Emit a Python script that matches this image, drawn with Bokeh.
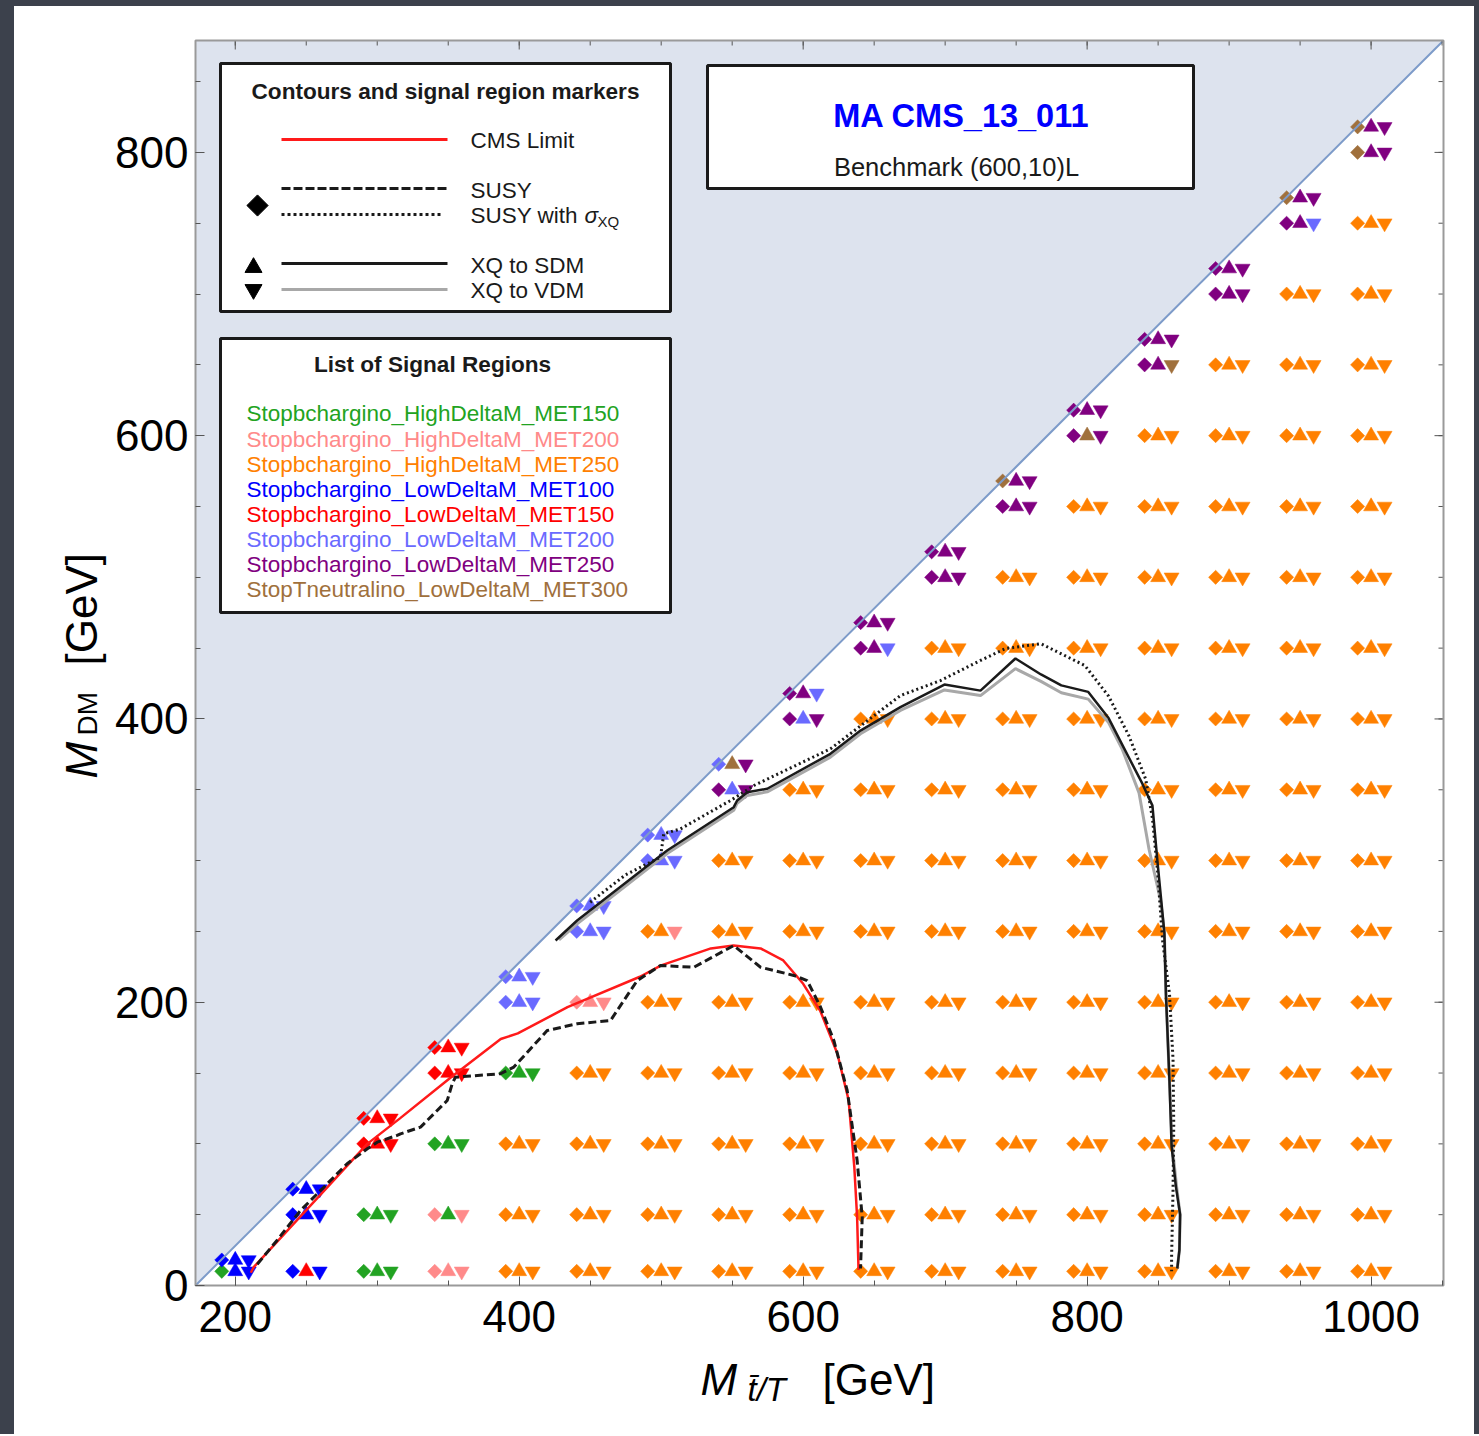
import numpy as np
from bokeh.plotting import figure
from bokeh.models import Range1d, Label, LinearAxis, FixedTicker, ColumnDataSource, Spacer
from bokeh.layouts import row, column
from bokeh.embed import file_html
from bokeh.resources import INLINE
from bokeh.transform import dodge

# ---------------------------------------------------------------- data
TOP_MASS = 172.0                      # kinematic boundary  M_DM = M - m_top
mt_columns = [200, 250, 300, 350, 400, 450, 500, 550, 600, 650, 700, 750, 800, 850, 900, 950, 1000]
mdm_rows = [10, 50, 100, 150, 200, 250, 300, 350, 400, 450, 500, 550, 600, 650, 700, 750, 800]
mdm_edge = [18, 68, 118, 168, 218, 268, 318, 368, 418, 468, 518, 568, 618, 668, 718, 768, 818]

sr_names = ["Stopbchargino_HighDeltaM_MET150", "Stopbchargino_HighDeltaM_MET200",
            "Stopbchargino_HighDeltaM_MET250", "Stopbchargino_LowDeltaM_MET100",
            "Stopbchargino_LowDeltaM_MET150", "Stopbchargino_LowDeltaM_MET200",
            "Stopbchargino_LowDeltaM_MET250", "StopTneutralino_LowDeltaM_MET300"]
sr_codes = ["G", "P", "O", "B", "R", "L", "V", "N"]
sr_colors = ["#22a322", "#ff8a8a", "#ff8000", "#0000ff", "#ff0000", "#6a6aff", "#800080", "#a0703c"]

# best signal region (diamond SUSY, up-triangle XQ->SDM, down-triangle XQ->VDM); others "OOO"
best_sr = {
    (200, 18): "BBB", (200, 10): "GBB",
    (250, 68): "BBB", (250, 50): "BBB", (250, 10): "BRB",
    (300, 118): "RRR", (300, 100): "RRR", (300, 50): "GGG", (300, 10): "GGG",
    (350, 168): "RRR", (350, 150): "RRR", (350, 100): "GGG", (350, 50): "PGP", (350, 10): "PPP",
    (400, 218): "LLL", (400, 200): "LLL", (400, 150): "GGG",
    (450, 268): "LLL", (450, 250): "LLL", (450, 200): "PPP",
    (500, 318): "LLL", (500, 300): "LLL", (500, 250): "OOP",
    (550, 368): "LNV", (550, 350): "VLV",
    (600, 418): "VVL", (600, 400): "VLV",
    (650, 468): "VVV", (650, 450): "VVL",
    (700, 518): "VVV", (700, 500): "VVV",
    (750, 568): "NVV", (750, 550): "VVV",
    (800, 618): "VVV", (800, 600): "VNV",
    (850, 668): "VVV", (850, 650): "VVN",
    (900, 718): "VVV", (900, 700): "VVV",
    (950, 768): "NVV", (950, 750): "VVL",
    (1000, 818): "NVV", (1000, 800): "NVV",
}

cms_mt = [211, 213, 293, 316, 352, 387, 399, 434, 485, 500, 535, 551, 570, 586, 600, 612, 624, 632, 636, 638, 639]
cms_mdm = [9, 13, 100, 118, 147, 174, 178, 196.5, 218, 226, 238, 240, 238, 229.5, 213, 194, 164, 131, 84, 48, 11]

susy_mt = [215.5, 229.5, 246, 262.4, 278.8, 293, 300, 314, 316.4, 330.5, 349.3, 352.8, 355.1, 386.8, 396.2, 419.7,
           440.8, 464.3, 483.1, 499.5, 523, 551.1, 570, 593.4, 602.8, 612.2, 621.6, 631, 638, 641.6, 640.4]
susy_mdm = [15, 32, 53, 69.4, 86, 96.5, 101.2, 106, 107.1, 111.8, 130.6, 142.4, 147.1, 149.5, 154.2, 180,
            184.8, 187.1, 215.3, 225.9, 224.7, 240, 224.7, 218.9, 215.3, 196.6, 173, 137.7, 88.3, 48.2, 12]

susy_xq_mt = [450, 475, 499.5, 501.8, 513.6, 548.8, 565.3, 619.2, 668.5, 696.7, 724.9, 742.5, 767.5, 798.4,
              815.1, 829.4, 841.3, 846, 849.6, 853.2, 858, 860.5, 861, 860.5, 859.5, 859.5]
susy_xq_mdm = [270.6, 290, 302.4, 318.9, 322.4, 342.4, 353, 378.9, 416.5, 427.1, 441.3, 449.7, 453.1, 437.7,
               416.1, 388.2, 357.3, 329.7, 292.5, 243.1, 206, 159.6, 113.3, 67, 20.7, 10]

xq_sdm_mt = [425.6, 440.8, 504.2, 551.1, 553.5, 560.6, 574.7, 619.2, 640.4, 668.5, 699.5, 724.9, 749.5, 767.5,
             781.8, 800.8, 815.1, 824.6, 838.9, 846, 849.6, 854.4, 855.5, 858, 859.5, 862.5, 865.5, 865, 863.5]
xq_sdm_mdm = [243.6, 257.7, 307.1, 337.7, 342.4, 348.3, 350.7, 375.4, 391.8, 408.3, 424.3, 420, 442.7, 431.4,
              423.7, 419.1, 400.6, 382, 354.3, 338.8, 298.6, 249.2, 206, 144.2, 98, 70, 50, 25, 12]

xq_vdm_mt = [428, 441, 504.2, 551.1, 553.5, 560.6, 574.7, 619.2, 640.4, 668.5, 699.5, 724.9, 749.5, 767.5,
             781.8, 800.8, 815.1, 824.6, 836.5, 843.6, 851.7, 854.4, 855.5, 858, 860, 863, 865.5, 865, 863.5]
xq_vdm_mdm = [244, 255.5, 305, 335.5, 340.5, 346, 348.5, 373, 389.5, 406, 420.5, 416.5, 435.5, 426.5,
              418.5, 414, 397.5, 379, 348, 308, 272, 249, 206, 144, 98, 70, 50, 25, 12]

x_major = [200, 400, 600, 800, 1000]
x_minor = [200, 250, 300, 350, 400, 450, 500, 550, 600, 650, 700, 750, 800, 850, 900, 950, 1000, 1050]
y_major = [0, 200, 400, 600, 800]
y_minor = [0, 50, 100, 150, 200, 250, 300, 350, 400, 450, 500, 550, 600, 650, 700, 750, 800, 850]

# ---------------------------------------------------------------- geometry
X0, X1 = TOP_MASS, 1051.0          # plot box in data units
Y0, Y1 = 0.0, 879.0
FIG_X, FIG_Y = 14, 6               # page position of the canvas
FIG_W, FIG_H = 1460, 1428
PL, PT, PR, PB = 195, 40, 1443, 1285   # page position of the plot box
SX = (PR - PL) / (X1 - X0)
SY = (PB - PT) / (Y1 - Y0)
XR0, XR1 = X0 - (PL - FIG_X) / SX, X1 + (FIG_X + FIG_W - PR) / SX
YR0, YR1 = Y0 - (FIG_Y + FIG_H - PB) / SY, Y1 + (PT - FIG_Y) / SY
DARK = "#3c414c"


def dx(px):
    return X0 + (px - PL) / SX


def dy(py):
    return Y1 - (py - PT) / SY


FONT = "Liberation Sans"
code_color = dict(zip(sr_codes, sr_colors))

p = figure(width=FIG_W, height=FIG_H, x_range=Range1d(XR0, XR1), y_range=Range1d(YR0, YR1),
           output_backend="svg", toolbar_location=None, x_axis_location=None, y_axis_location=None,
           min_border=0, min_border_left=0, min_border_right=0, min_border_top=0, min_border_bottom=0)
p.grid.visible = False
p.background_fill_color = "white"
p.border_fill_color = "white"
p.outline_line_color = None

xax = LinearAxis(fixed_location=Y0, bounds=(X0, X1), ticker=FixedTicker(ticks=x_major, minor_ticks=x_minor))
yax = LinearAxis(fixed_location=X0, bounds=(Y0, Y1), ticker=FixedTicker(ticks=y_major, minor_ticks=y_minor))
for ax in (xax, yax):
    ax.axis_line_color = None
    ax.major_tick_in, ax.major_tick_out = 9, 0
    ax.minor_tick_in, ax.minor_tick_out = 5, 0
    ax.major_tick_line_color = "#555555"
    ax.minor_tick_line_color = "#555555"
    ax.major_label_text_font = FONT
    ax.major_label_text_font_size = "44px"
    ax.major_label_text_color = "black"
xax.major_label_standoff = 15
yax.major_label_standoff = 7

# excluded (kinematically forbidden) region above the diagonal
p.patch([X0, X1, X0], [X0 - TOP_MASS, X1 - TOP_MASS, X1 - TOP_MASS], fill_color="#dde3ee", line_color=None)

# ---------------------------------------------------------------- markers
pm, pd, cd, cu, cv = [], [], [], [], []
for i, mt in enumerate(mt_columns):
    rows = [m for m in mdm_rows if m < mdm_edge[i]] + [mdm_edge[i]]
    for m in rows:
        code = best_sr.get((mt, m), "OOO")
        pm.append(mt)
        pd.append(m)
        cd.append(code_color[code[0]])
        cu.append(code_color[code[1]])
        cv.append(code_color[code[2]])
src = ColumnDataSource(dict(mt=pm, mdm=pd, cd=cd, cu=cu, cv=cv))
p.scatter(x=dodge("mt", -9.5), y="mdm", source=src, marker="square", angle=np.pi / 4, size=10,
          fill_color="cd", line_color="cd", line_width=0.5)
p.scatter(x="mt", y="mdm", source=src, marker="triangle", size=15, fill_color="cu", line_color="cu", line_width=0.5)
p.scatter(x=dodge("mt", 9.5), y="mdm", source=src, marker="inverted_triangle", size=15,
          fill_color="cv", line_color="cv", line_width=0.5)

p.line([X0, X1], [X0 - TOP_MASS, X1 - TOP_MASS], line_color="#7d9bc9", line_width=2)

# ---------------------------------------------------------------- contours
p.line(xq_vdm_mt, xq_vdm_mdm, line_color="#a8a8a8", line_width=3)
p.line(xq_sdm_mt, xq_sdm_mdm, line_color="#1a1a1a", line_width=2.5)
p.line(susy_xq_mt, susy_xq_mdm, line_color="#1a1a1a", line_width=3, line_dash="2 3")
p.line(cms_mt, cms_mdm, line_color="#ff1a1a", line_width=2.5)
p.line(susy_mt, susy_mdm, line_color="#1a1a1a", line_width=3, line_dash="8 4")

# mirrored ticks on the top and right edges of the box
for ticks, ln in ((y_major, 9), (y_minor, 5)):
    p.segment(x0=[X1] * len(ticks), y0=ticks, x1=[X1 - ln / SX] * len(ticks), y1=ticks,
              line_color="#555555", line_width=1)
for ticks, ln in ((x_major, 9), (x_minor, 5)):
    p.segment(x0=ticks, y0=[Y1] * len(ticks), x1=ticks, y1=[Y1 - ln / SY] * len(ticks),
              line_color="#555555", line_width=1)

# plot-box frame
p.quad(left=X0, right=X1, bottom=Y0, top=Y1, fill_color=None, line_color="#9a9a9a", line_width=2)


def label(px, py, text, size="22.5px", color="#1a1a1a", style="normal", align="left", angle=0.0,
          baseline="middle"):
    p.add_layout(Label(x=dx(px), y=dy(py), text=text, text_font=FONT, text_font_size=size,
                       text_color=color, text_font_style=style, text_align=align,
                       text_baseline=baseline, angle=angle))


def box(l, t, r, b):
    p.quad(left=dx(l), right=dx(r), top=dy(t), bottom=dy(b), fill_color="white",
           line_color="#1a1a1a", line_width=3)


# ---------------------------------------------------------------- legend 1
box(220, 63, 670, 311)
label(445, 91, "Contours and signal region markers", size="22.6px", style="bold", align="center")
p.line([dx(281), dx(447)], [dy(139), dy(139)], line_color="#ff1a1a", line_width=3)
label(470, 140, "CMS Limit")
p.line([dx(281), dx(447)], [dy(188), dy(188)], line_color="#1a1a1a", line_width=3, line_dash="9 3")
label(470, 190, "SUSY")
p.line([dx(281), dx(442)], [dy(214), dy(214)], line_color="#1a1a1a", line_width=3, line_dash="3 3")
label(470, 215, "SUSY with")
label(584, 215, "σ", style="italic")
label(597, 221, "XQ", size="15px")
p.scatter([dx(257)], [dy(205)], marker="square", angle=np.pi / 4, size=15, color="black")
p.line([dx(281), dx(447)], [dy(263), dy(263)], line_color="#1a1a1a", line_width=3)
label(470, 265, "XQ to SDM")
p.line([dx(281), dx(447)], [dy(289), dy(289)], line_color="#a8a8a8", line_width=3)
label(470, 290, "XQ to VDM")
p.scatter([dx(253)], [dy(267)], marker="triangle", size=17, color="black")
p.scatter([dx(253)], [dy(289)], marker="inverted_triangle", size=17, color="black")

# ---------------------------------------------------------------- legend 2
box(220, 338, 670, 612)
label(432, 364, "List of Signal Regions", size="22.6px", style="bold", align="center")
for name, col, py in zip(sr_names, sr_colors, [413, 439, 464, 489, 514, 539, 564, 589]):
    label(246, py, name, color=col)

# ---------------------------------------------------------------- title box
box(707, 65, 1193, 188)
label(961, 115, "MA CMS_13_011", size="32.5px", style="bold", color="#0000ff", align="center")
label(956, 166, "Benchmark (600,10)L", size="25.5px", align="center")

# ---------------------------------------------------------------- axes and axis titles
p.add_layout(xax, "below")
p.add_layout(yax, "left")

label(700, 1379, "M", size="44px", style="italic", color="black", baseline="alphabetic")
label(747, 1389, "t\u0304/T", size="33px", style="italic", color="black", baseline="alphabetic")
label(822, 1379, "[GeV]", size="44px", color="black", baseline="alphabetic")
label(81, 778, "M", size="44px", style="italic", color="black", baseline="alphabetic", angle=np.pi / 2)
label(87, 735, "DM", size="28px", color="black", baseline="alphabetic", angle=np.pi / 2)
label(81, 665, "[GeV]", size="44px", color="black", baseline="alphabetic", angle=np.pi / 2)

top_strip = Spacer(width=FIG_X + FIG_W + 5, height=FIG_Y, styles={"background-color": DARK})
left_strip = Spacer(width=FIG_X, height=FIG_H, styles={"background-color": DARK})
right_strip = Spacer(width=5, height=FIG_H, styles={"background-color": DARK})
layout = column(top_strip, row(left_strip, p, right_strip))

open("out.html", "w").write(file_html(layout, INLINE))
